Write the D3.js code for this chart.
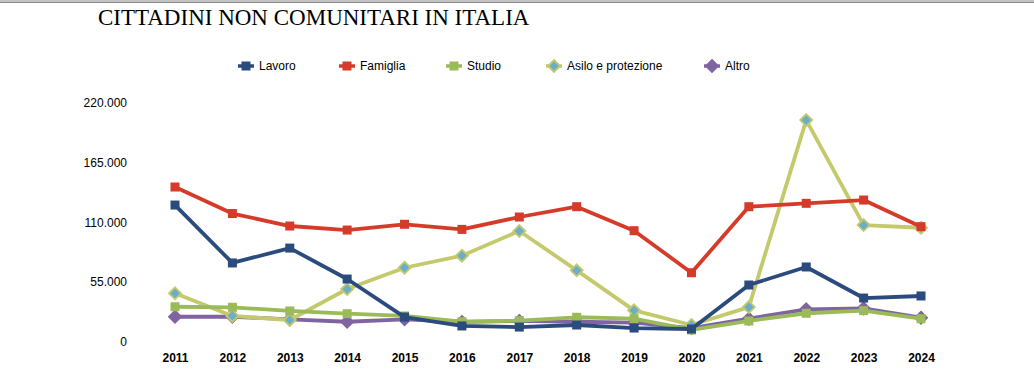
<!DOCTYPE html>
<html>
<head>
<meta charset="utf-8">
<script src="https://cdn.jsdelivr.net/npm/d3@7"></script>
<style>
  body { margin: 0; background: #fff; }
  svg { display: block; }
  .tick text { font-family: "Liberation Sans", Arial, sans-serif; fill: #000; }
</style>
</head>
<body>
<svg id="chart"></svg>
<script>
const years = [2011, 2012, 2013, 2014, 2015, 2016, 2017, 2018, 2019, 2020, 2021, 2022, 2023, 2024];
const lavoro = [125600, 72300, 86000, 57500, 22500, 14300, 13300, 15200, 12400, 11500, 52000, 68600, 40000, 41900];
const famiglia = [142200, 117800, 106300, 102600, 107900, 103200, 114600, 124100, 102000, 63300, 124100, 127200, 130200, 105700];
const studio = [32000, 31500, 28100, 25600, 23500, 18200, 19200, 22300, 21000, 10600, 18900, 26000, 28400, 21000];
const asilo = [44400, 23500, 19800, 48300, 67900, 79000, 101700, 65500, 28700, 15200, 31700, 203800, 107200, 104700];
const altro = [22800, 22800, 20400, 18200, 20400, 18000, 18900, 18200, 17300, 12400, 21000, 29600, 30500, 21900];
const yTicks = [0, 55000, 110000, 165000, 220000];

const series = [
  {name: 'Lavoro', values: lavoro, line: '#2b4a7e', fill: '#2b4a7e', stroke: '#2b4a7e', shape: 'square', legendX: 246},
  {name: 'Famiglia', values: famiglia, line: '#d63b2a', fill: '#d63b2a', stroke: '#d63b2a', shape: 'square', legendX: 347},
  {name: 'Studio', values: studio, line: '#9bbb59', fill: '#9bbb59', stroke: '#9bbb59', shape: 'square', legendX: 454},
  {name: 'Asilo e protezione', values: asilo, line: '#c4c96c', fill: '#6aaec9', stroke: '#c4c96c', shape: 'diamond', legendX: 554},
  {name: 'Altro', values: altro, line: '#8064a2', fill: '#8064a2', stroke: '#8064a2', shape: 'diamond', legendX: 712}
];

const width = 1034, height = 384;
const svg = d3.select('#chart').attr('width', width).attr('height', height);

// grey strip on top
svg.append('rect').attr('x', 0).attr('y', 0).attr('width', width).attr('height', 2).attr('fill', '#c4c4c4');
svg.append('line').attr('x1', 0).attr('x2', width).attr('y1', 2.5).attr('y2', 2.5)
  .attr('stroke', '#8a8a8a').attr('stroke-width', 1);

svg.append('text')
  .attr('x', 98).attr('y', 25)
  .attr('font-family', '"Liberation Serif", "Times New Roman", serif')
  .attr('font-size', 23)
  .attr('fill', '#000')
  .text('CITTADINI NON COMUNITARI IN ITALIA');

const x = d3.scalePoint().domain(years).range([175, 921]);
const y = d3.scaleLinear().domain([0, 220000]).range([341.5, 102.5]);

const it = d3.formatLocale({decimal: ',', thousands: '.', grouping: [3], currency: ['', '€']});

const yAxisG = svg.append('g')
  .attr('transform', 'translate(127,0)')
  .call(d3.axisLeft(y).tickValues(yTicks).tickSize(0).tickPadding(0).tickFormat(it.format(',')));
yAxisG.select('.domain').remove();
yAxisG.selectAll('text').attr('font-size', 12).attr('dy', '0.35em');

const xAxisG = svg.append('g')
  .attr('transform', 'translate(0,351)')
  .call(d3.axisBottom(x).tickSize(0).tickPadding(0).tickFormat(d => d));
xAxisG.select('.domain').remove();
xAxisG.selectAll('text').attr('font-size', 12).attr('font-weight', 'bold').attr('dy', '0.9em');

const line = d3.line().x((d, i) => x(years[i])).y(d => y(d));

function marker(g, s, cx, cy) {
  if (s.shape === 'square') {
    g.append('rect')
      .attr('x', cx - 4.5).attr('y', cy - 4.5).attr('width', 9).attr('height', 9)
      .attr('fill', s.fill);
  } else {
    const r = 6;
    g.append('path')
      .attr('d', `M${cx},${cy - r}L${cx + r},${cy}L${cx},${cy + r}L${cx - r},${cy}Z`)
      .attr('fill', s.fill)
      .attr('stroke', s.stroke)
      .attr('stroke-width', 1.8);
  }
}

// draw in reverse so Lavoro ends on top
series.slice().reverse().forEach(s => {
  const g = svg.append('g');
  g.append('path')
    .attr('d', line(s.values))
    .attr('fill', 'none')
    .attr('stroke', s.line)
    .attr('stroke-width', 3.8)
    .attr('stroke-linejoin', 'round');
  s.values.forEach((v, i) => marker(g, s, x(years[i]), y(v)));
});

// legend
const legend = svg.append('g');
series.forEach(s => {
  const g = legend.append('g');
  g.append('line')
    .attr('x1', s.legendX - 8).attr('x2', s.legendX + 8)
    .attr('y1', 66).attr('y2', 66)
    .attr('stroke', s.line).attr('stroke-width', 3.5);
  marker(g, s, s.legendX, 66);
  g.append('text')
    .attr('x', s.legendX + 13).attr('y', 66).attr('dy', '0.35em')
    .attr('font-family', '"Liberation Sans", Arial, sans-serif')
    .attr('font-size', 12)
    .attr('fill', '#000')
    .text(s.name);
});
</script>
</body>
</html>
